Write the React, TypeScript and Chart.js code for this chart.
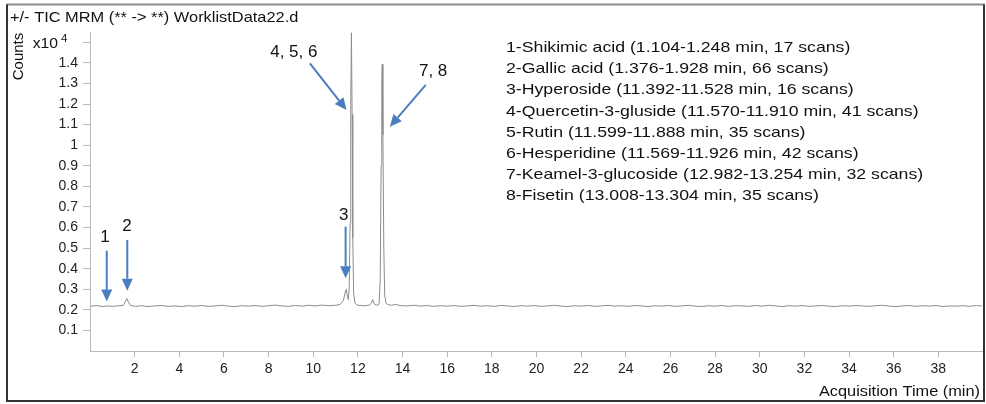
import React, { useEffect, useRef } from 'react';
import { Chart, registerables } from 'chart.js';

Chart.register(...registerables);

// Acquisition time (min)
const times = [
  0.05, 0.3, 0.55, 0.8, 1.05, 1.3, 1.5, 1.58, 1.65, 1.72, 1.82, 2.05, 2.3, 2.6, 2.9, 3.2, 3.5, 3.8,
  4.1, 4.4, 4.7, 5.0, 5.3, 5.6, 5.9, 6.2, 6.5, 6.8, 7.1, 7.4, 7.7, 8.0, 8.3, 8.6, 8.9, 9.2, 9.5,
  9.8, 10.1, 10.4, 10.7, 11.0, 11.2, 11.35, 11.42, 11.48, 11.53, 11.57, 11.61, 11.65, 11.68, 11.71,
  11.74, 11.77, 11.81, 11.87, 11.95, 12.1, 12.3, 12.5, 12.6, 12.67, 12.73, 12.85, 12.95, 13.0,
  13.04, 13.07, 13.09, 13.12, 13.16, 13.2, 13.26, 13.35, 13.5, 13.7, 13.9, 14.2, 14.5, 14.8, 15.1,
  15.4, 15.7, 16.0, 16.3, 16.6, 16.9, 17.2, 17.5, 17.8, 18.1, 18.4, 18.7, 19.0, 19.3, 19.6, 19.9,
  20.2, 20.5, 20.8, 21.1, 21.4, 21.7, 22.0, 22.3, 22.6, 22.9, 23.2, 23.5, 23.8, 24.1, 24.4, 24.7,
  25.0, 25.3, 25.6, 25.9, 26.2, 26.5, 26.8, 27.1, 27.4, 27.7, 28.0, 28.3, 28.6, 28.9, 29.2, 29.5,
  29.8, 30.1, 30.4, 30.7, 31.0, 31.3, 31.6, 31.9, 32.2, 32.5, 32.8, 33.1, 33.4, 33.7, 34.0, 34.3,
  34.6, 34.9, 35.2, 35.5, 35.8, 36.1, 36.4, 36.7, 37.0, 37.3, 37.6, 37.9, 38.2, 38.5, 38.8, 39.1,
  39.4, 39.7, 39.95,
];

// Counts (x10^4)
const counts = [
  0.218, 0.221, 0.216, 0.219, 0.217, 0.22, 0.222, 0.24, 0.255, 0.238, 0.221, 0.217, 0.22, 0.216,
  0.219, 0.221, 0.217, 0.219, 0.216, 0.22, 0.218, 0.221, 0.217, 0.219, 0.222, 0.218, 0.216, 0.22,
  0.218, 0.221, 0.217, 0.22, 0.223, 0.219, 0.217, 0.221, 0.218, 0.222, 0.219, 0.223, 0.22, 0.222,
  0.226, 0.245, 0.28, 0.3, 0.265, 0.25, 0.3, 0.62, 1.2, 1.546, 1.15, 0.55, 0.28, 0.232, 0.224,
  0.221, 0.22, 0.223, 0.232, 0.25, 0.228, 0.222, 0.228, 0.35, 0.9, 1.3, 1.393, 1.05, 0.5, 0.27,
  0.232, 0.225, 0.222, 0.226, 0.221, 0.219, 0.222, 0.218, 0.221, 0.217, 0.22, 0.218, 0.221, 0.217,
  0.219, 0.222, 0.218, 0.22, 0.217, 0.221, 0.219, 0.216, 0.22, 0.218, 0.221, 0.217, 0.219, 0.222,
  0.218, 0.216, 0.22, 0.218, 0.221, 0.217, 0.219, 0.222, 0.218, 0.22, 0.217, 0.221, 0.219, 0.216,
  0.22, 0.218, 0.221, 0.217, 0.219, 0.222, 0.218, 0.216, 0.22, 0.218, 0.221, 0.217, 0.22, 0.219,
  0.217, 0.221, 0.218, 0.222, 0.219, 0.216, 0.22, 0.218, 0.221, 0.217, 0.219, 0.221, 0.218, 0.216,
  0.22, 0.218, 0.221, 0.219, 0.217, 0.22, 0.222, 0.218, 0.216, 0.219, 0.221, 0.217, 0.22, 0.218,
  0.221, 0.216, 0.219, 0.218, 0.22, 0.217, 0.221, 0.219,
];

const xTickValues = [2, 4, 6, 8, 10, 12, 14, 16, 18, 20, 22, 24, 26, 28, 30, 32, 34, 36, 38];
const yTickValues = [0.1, 0.2, 0.3, 0.4, 0.5, 0.6, 0.7, 0.8, 0.9, 1, 1.1, 1.2, 1.3, 1.4, 1.5];

const titleText = '+/- TIC MRM (** -> **) WorklistData22.d';
const yAxisTitle = 'Counts';
const xAxisTitle = 'Acquisition Time (min)';
const yExponentBase = 'x10';
const yExponent = '4';

const legendLines = [
  '1-Shikimic acid (1.104-1.248 min, 17 scans)',
  '2-Gallic acid (1.376-1.928 min, 66 scans)',
  '3-Hyperoside (11.392-11.528 min, 16 scans)',
  '4-Quercetin-3-gluside (11.570-11.910 min, 41 scans)',
  '5-Rutin (11.599-11.888 min, 35 scans)',
  '6-Hesperidine (11.569-11.926 min, 42 scans)',
  '7-Keamel-3-glucoside (12.982-13.254 min, 32 scans)',
  '8-Fisetin (13.008-13.304 min, 35 scans)',
];

// Peak annotations (data units)
const peakLabels = ['1', '2', '3', '4, 5, 6', '7, 8'];
const peakLabelX = [0.67, 1.66, 11.36, 9.13, 15.37];
const peakLabelY = [0.557, 0.615, 0.665, 1.458, 1.364];
const arrowFromX = [0.75, 1.67, 11.45, 9.85, 15.04];
const arrowFromY = [0.487, 0.539, 0.604, 1.398, 1.293];
const arrowToX = [0.75, 1.67, 11.45, 11.49, 13.43];
const arrowToY = [0.24, 0.293, 0.353, 1.171, 1.09];

const FONT = "'Liberation Sans', Arial, Helvetica, sans-serif";
const ARROW_COLOR = '#4a7ebf';

function drawText(
  ctx: CanvasRenderingContext2D,
  s: string,
  x: number,
  y: number,
  size: number,
  align: 'left' | 'right' | 'center',
  sx: number,
) {
  ctx.font = `${size}px ${FONT}`;
  const w = ctx.measureText(s).width * sx;
  const left = align === 'left' ? x : align === 'right' ? x - w : x - w / 2;
  ctx.save();
  ctx.translate(left, y);
  ctx.scale(sx, 1);
  ctx.textAlign = 'left';
  ctx.textBaseline = 'alphabetic';
  ctx.fillText(s, 0, 0);
  ctx.restore();
}

const overlayPlugin = {
  id: 'overlay',
  afterDraw(chart: any) {
    const ctx: CanvasRenderingContext2D = chart.ctx;
    const xs = chart.scales.x;
    const ys = chart.scales.y;
    ctx.save();

    // outer frame
    ctx.strokeStyle = '#8a8a8a';
    ctx.lineWidth = 2;
    ctx.beginPath();
    ctx.moveTo(6, 4.5);
    ctx.lineTo(985, 4.5);
    ctx.stroke();
    ctx.strokeStyle = '#333';
    ctx.beginPath();
    ctx.moveTo(7, 4.5);
    ctx.lineTo(7, 401);
    ctx.lineTo(984, 401);
    ctx.lineTo(984, 4.5);
    ctx.stroke();

    ctx.fillStyle = '#111';
    // title
    drawText(ctx, titleText, 10, 21.5, 14.5, 'left', 1.13);

    // y title rotated
    ctx.save();
    ctx.translate(23, 56.5);
    ctx.rotate(-Math.PI / 2);
    ctx.font = `15px ${FONT}`;
    ctx.textAlign = 'center';
    ctx.textBaseline = 'alphabetic';
    ctx.fillText(yAxisTitle, 0, 0);
    ctx.restore();

    // exponent label at the top tick
    const yTop = ys.getPixelForValue(yTickValues[yTickValues.length - 1]);
    drawText(ctx, yExponentBase, 58, yTop + 5.5, 14, 'right', 1.12);
    drawText(ctx, yExponent, 61, yTop - 0.5, 10.5, 'left', 1.1);

    // x axis title
    drawText(ctx, xAxisTitle, 980, 396, 15, 'right', 1.09);

    // legend
    legendLines.forEach((line, i) => {
      drawText(ctx, line, 506, 46.7 + i * 21.16 + 5.4, 15, 'left', 1.18);
    });

    // arrows
    for (let i = 0; i < peakLabels.length; i++) {
      const x0 = xs.getPixelForValue(arrowFromX[i]);
      const y0 = ys.getPixelForValue(arrowFromY[i]);
      const x1 = xs.getPixelForValue(arrowToX[i]);
      const y1 = ys.getPixelForValue(arrowToY[i]);
      const ang = Math.atan2(y1 - y0, x1 - x0);
      const headLen = 12;
      const headW = 5.5;
      const bx = x1 - headLen * Math.cos(ang);
      const by = y1 - headLen * Math.sin(ang);
      ctx.strokeStyle = ARROW_COLOR;
      ctx.fillStyle = ARROW_COLOR;
      ctx.lineWidth = 2;
      ctx.beginPath();
      ctx.moveTo(x0, y0);
      ctx.lineTo(bx, by);
      ctx.stroke();
      ctx.beginPath();
      ctx.moveTo(x1, y1);
      ctx.lineTo(bx + headW * Math.sin(ang), by - headW * Math.cos(ang));
      ctx.lineTo(bx - headW * Math.sin(ang), by + headW * Math.cos(ang));
      ctx.closePath();
      ctx.fill();

      ctx.fillStyle = '#111';
      const lx = xs.getPixelForValue(peakLabelX[i]);
      const ly = ys.getPixelForValue(peakLabelY[i]);
      drawText(ctx, peakLabels[i], lx, ly + 6.1, 17, 'center', 1.0);
    }

    ctx.restore();
  },
};

export default function App() {
  const canvasRef = useRef<HTMLCanvasElement | null>(null);

  useEffect(() => {
    const canvas = canvasRef.current;
    if (!canvas) return;
    const points = times.map((t, i) => ({ x: t, y: counts[i] }));
    const axisGrey = '#b8b8b8';
    const chart = new Chart(canvas, {
      type: 'line',
      data: {
        datasets: [
          {
            data: points,
            borderColor: '#8c8c8c',
            borderWidth: 1,
            pointRadius: 0,
            tension: 0,
            fill: false,
          },
        ],
      },
      options: {
        responsive: false,
        animation: false,
        events: [],
        layout: { padding: { top: 32, right: 3, left: 0, bottom: 0 } },
        plugins: {
          legend: { display: false },
          tooltip: { enabled: false },
          title: { display: false },
        },
        scales: {
          x: {
            type: 'linear',
            min: 0,
            max: 40,
            afterBuildTicks: (s: any) => {
              s.ticks = xTickValues.map((v) => ({ value: v }));
            },
            afterFit: (s: any) => {
              s.height = 53;
            },
            ticks: {
              autoSkip: false,
              maxRotation: 0,
              padding: 4,
              color: '#222',
              font: { family: FONT, size: 14 },
              callback: (v: any) => String(v),
            },
            grid: { drawOnChartArea: false, tickLength: 6, color: axisGrey },
            border: { color: axisGrey, width: 1 },
          },
          y: {
            type: 'linear',
            min: 0,
            max: 1.55,
            afterBuildTicks: (s: any) => {
              s.ticks = yTickValues.map((v) => ({ value: v }));
            },
            afterFit: (s: any) => {
              s.width = 90;
            },
            ticks: {
              autoSkip: false,
              padding: 5,
              color: '#222',
              font: { family: FONT, size: 14 },
              callback: (v: any) => {
                const n = Number(v);
                if (n > 1.45) return '';
                return String(Number(n.toFixed(1)));
              },
            },
            grid: { drawOnChartArea: false, tickLength: 7, color: axisGrey },
            border: { color: axisGrey, width: 1 },
          },
        },
      },
      plugins: [overlayPlugin],
    } as any);
    return () => chart.destroy();
  }, []);

  return (
    <div style={{ position: 'absolute', left: 0, top: 0, width: 986, height: 404, background: '#fff' }}>
      <canvas ref={canvasRef} width={986} height={404} />
    </div>
  );
}
